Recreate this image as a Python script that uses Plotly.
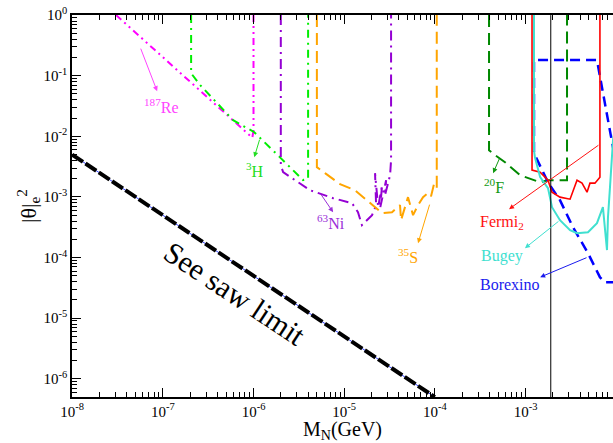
import numpy as np
import plotly.graph_objects as go

# ---------------- data (M_N in GeV, |theta_e|^2) ----------------
seesaw_M = [1e-8, 1e-4]
seesaw_th = [5e-3, 5e-7]

re_M = [3.05e-8, 9.7e-7, 1.0e-6, 1.0e-6]
re_th = [1.0, 9.5e-3, 1.25e-2, 1.0]

h3_M = [2.05e-7, 2.05e-7, 2.58e-7, 5.96e-7, 1.02e-6, 1.52e-6, 1.96e-6, 3.52e-6, 4.0e-6, 4.0e-6]
h3_th = [1.0, 0.110, 0.070, 0.0185, 0.0117, 6.4e-3, 4.5e-3, 1.9e-3, 2.0e-3, 1.0]

ni_M = [2.0e-6, 2.0e-6, 2.12e-6, 2.88e-6, 4.21e-6, 7.55e-6, 1.22e-5, 1.42e-5, 1.57e-5,
        2.03e-5, 2.25e-5, 2.19e-5, 2.37e-5, 2.62e-5, 2.49e-5, 2.90e-5, 2.82e-5, 3.21e-5,
        3.29e-5, 3.29e-5]
ni_th = [1.0, 3.35e-3, 2.57e-3, 1.89e-3, 1.29e-3, 9.55e-4, 7.91e-4, 5.61e-4, 3.43e-4,
         5.01e-4, 7.33e-4, 2.47e-3, 6.79e-4, 1.57e-3, 6.53e-4, 1.89e-3, 1.07e-3, 2.29e-3,
         4.05e-3, 1.0]

s_M = [5.0e-6, 5.0e-6, 6.15e-6, 9.0e-6, 1.32e-5, 2.03e-5, 2.62e-5, 3.37e-5, 4.13e-5,
       4.24e-5, 5.06e-5, 5.75e-5, 6.53e-5, 7.41e-5, 8.42e-5, 9.08e-5, 9.79e-5, 1.05e-4, 1.05e-4]
s_th = [1.0, 3.10e-3, 2.47e-3, 1.63e-3, 1.29e-3, 7.33e-4, 5.40e-4, 5.61e-4, 7.33e-4,
        4.14e-4, 9.93e-4, 5.01e-4, 7.33e-4, 9.93e-4, 1.16e-3, 1.03e-3, 1.63e-3, 1.40e-3, 1.0]

f_M = [3.96e-4, 3.96e-4, 4.61e-4, 5.94e-4, 8.69e-4, 1.45e-3, 1.77e-3, 2.87e-3, 2.87e-3]
f_th = [1.0, 5.9e-3, 4.9e-3, 3.75e-3, 2.29e-3, 1.75e-3, 1.89e-3, 1.89e-3, 1.0]

fermi_M = [1.18e-3, 1.18e-3, 1.45e-3, 1.77e-3, 1.96e-3, 2.40e-3, 3.10e-3, 3.70e-3, 4.20e-3,
           4.77e-3, 5.14e-3, 5.83e-3, 6.62e-3, 6.62e-3]
fermi_th = [1.0, 2.77e-3, 2.57e-3, 1.89e-3, 1.20e-3, 9.93e-4, 9.2e-4, 1.89e-3, 1.69e-3,
            1.20e-3, 1.69e-3, 1.69e-3, 2.12e-3, 1.0]

bugey_M = [1.24e-3, 1.24e-3, 1.27e-3, 1.45e-3, 1.77e-3, 1.96e-3, 2.40e-3, 3.10e-3, 3.70e-3,
           4.89e-3, 6.14e-3, 7.14e-3, 7.92e-3, 8.12e-3, 8.55e-3, 9.23e-3, 1.1e-2]
bugey_th = [1.0, 5.9e-3, 4.5e-3, 2.12e-3, 1.40e-3, 6.79e-4, 4.14e-4, 2.83e-4, 2.53e-4,
            2.62e-4, 3.70e-4, 6.79e-4, 1.33e-4, 4.64e-4, 1.45e-3, 8.65e-3, 5.0e-2]

borex_M = [1.1e-2, 6.14e-3, 1.24e-3, 1.24e-3, 1.77e-3, 2.40e-3, 3.34e-3, 4.89e-3, 6.62e-3, 7.51e-3, 1.1e-2]
borex_th = [1.57e-3, 0.181, 0.181, 5.28e-3, 1.75e-3, 8.85e-4, 3.17e-4, 1.18e-4, 4.75e-5, 3.93e-5, 3.93e-5]

vline_M = 1.9e-3

x_tick_vals = [1e-8, 1e-7, 1e-6, 1e-5, 1e-4, 1e-3]
x_tick_text = ["10<sup>-8</sup>", "10<sup>-7</sup>", "10<sup>-6</sup>", "10<sup>-5</sup>",
               "10<sup>-4</sup>", "10<sup>-3</sup>"]
y_tick_vals = [1e-6, 1e-5, 1e-4, 1e-3, 1e-2, 1e-1, 1.0]
y_tick_text = ["10<sup>-6</sup>", "10<sup>-5</sup>", "10<sup>-4</sup>", "10<sup>-3</sup>",
               "10<sup>-2</sup>", "10<sup>-1</sup>", "10<sup>0</sup>"]

# labels: (text, colour, label position (M, th), arrow tail on curve (M, th), arrow head (M, th))
labels = [
    ("<sup>187</sup>Re", "#ff44ff", (9.57e-8, 3.15e-2), (5.62e-8, 2.96e-1), (8.65e-8, 5.57e-2)),
    ("<sup>3</sup>H", "#22dd22", (1.04e-6, 2.77e-3), (1.18e-6, 9.33e-3), (1.02e-6, 4.54e-3)),
    ("<sup>63</sup>Ni", "#9a2fd8", (7.18e-6, 3.84e-4), (5.42e-6, 1.16e-3), (7.55e-6, 5.61e-4)),
    ("<sup>35</sup>S", "#ffa500", (5.06e-5, 1.05e-4), (8.85e-5, 7.91e-4), (6.53e-5, 1.73e-4)),
    ("<sup>20</sup>F", "#119911", (4.50e-4, 1.51e-3), (5.24e-4, 4.54e-3), (4.39e-4, 2.47e-3)),
    ("Fermi<sub>2</sub>", "#ff1111", (5.51e-4, 3.84e-4), (6.62e-3, 7.43e-3), (6.58e-4, 6.30e-4)),
    ("Bugey", "#40e0d0", (5.51e-4, 1.05e-4), (2.40e-3, 4.14e-4), (9.86e-4, 1.43e-4)),
    ("Borexino", "#1a1aee", (6.75e-4, 3.64e-5), (4.89e-3, 1.02e-4), (1.45e-3, 4.75e-5)),
]
seesaw_label_pos = (6.27e-7, 2.59e-5)

# ---------------- figure ----------------
SERIF = "Liberation Serif, Times New Roman, serif"
fig = go.Figure()


def line(x, y, color, width, dash="solid"):
    fig.add_trace(go.Scatter(x=x, y=y, mode="lines", showlegend=False, hoverinfo="skip",
                             line=dict(color=color, width=width, dash=dash)))


line(seesaw_M, seesaw_th, "#3344ff", 1)
line(seesaw_M, seesaw_th, "black", 4, "13px,3px")
line(re_M, re_th, "#ff00ff", 2, "7px,4px,2px,4px,2px,4px")
line(h3_M, h3_th, "#00ee00", 2, "8px,5px,2px,5px")
line(ni_M, ni_th, "#9400d3", 2, "10px,5px,2px,5px")
line(s_M, s_th, "#ffa500", 2, "12px,6px")
line(f_M, f_th, "#008800", 2, "12px,6px")
line(borex_M, borex_th, "#0000ff", 2.5, "10px,6px")
line(fermi_M, fermi_th, "#ff0000", 1.6)
line(bugey_M, bugey_th, "#40e0d0", 2)
line([vline_M, vline_M], [1e-7, 1.0], "black", 1)

for text, color, pos, tail, head in labels:
    fig.add_annotation(x=np.log10(pos[0]), y=np.log10(pos[1]), text=text, showarrow=False,
                       font=dict(family=SERIF, size=16, color=color))
    fig.add_annotation(x=np.log10(head[0]), y=np.log10(head[1]),
                       ax=np.log10(tail[0]), ay=np.log10(tail[1]),
                       axref="x", ayref="y", text="", showarrow=True,
                       arrowhead=2, arrowsize=1, arrowwidth=1, arrowcolor=color)

fig.add_annotation(x=np.log10(seesaw_label_pos[0]), y=np.log10(seesaw_label_pos[1]),
                   text="See saw limit", showarrow=False, textangle=33.5,
                   font=dict(family=SERIF, size=30, color="black"))

minor_x = [k * 10.0 ** e for e in range(-8, -2) for k in range(2, 10)]
minor_y = [k * 10.0 ** e for e in range(-7, 0) for k in range(2, 10)]

fig.update_layout(
    width=613, height=443,
    margin=dict(l=72, r=0, t=15, b=46),
    paper_bgcolor="white", plot_bgcolor="white",
    font=dict(family=SERIF, size=15, color="black"),
    xaxis=dict(type="log", range=[-8.002, -2.035], showgrid=False, zeroline=False,
               showline=True, linecolor="black", linewidth=1.5, mirror="ticks",
               ticks="inside", ticklen=9, tickwidth=1.2, tickcolor="black",
               tickmode="array", tickvals=x_tick_vals, ticktext=x_tick_text,
               minor=dict(tickvals=minor_x, ticks="inside", ticklen=5, tickcolor="black", showgrid=False),
               title=dict(text="M<sub>N</sub>(GeV)", font=dict(size=20), standoff=5)),
    yaxis=dict(type="log", range=[-6.30, 0.002], showgrid=False, zeroline=False,
               showline=True, linecolor="black", linewidth=1.5, mirror=False,
               ticks="inside", ticklen=9, tickwidth=1.2, tickcolor="black",
               tickmode="array", tickvals=y_tick_vals, ticktext=y_tick_text,
               minor=dict(tickvals=minor_y, ticks="inside", ticklen=5, tickcolor="black", showgrid=False),
               title=dict(text="|θ|<sub>e</sub><sup>2</sup>", font=dict(size=22), standoff=0)),
)

fig.write_html("out.html", config={"displayModeBar": False},
               post_script="document.body.style.margin='0';document.body.style.overflow='hidden';")
